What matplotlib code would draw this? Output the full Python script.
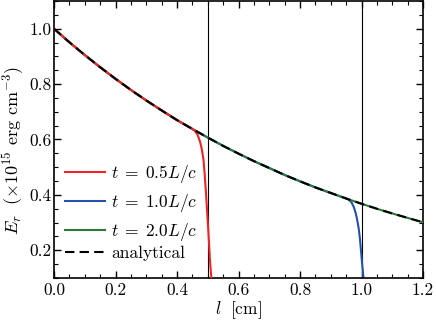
import matplotlib
matplotlib.use("Agg")
import matplotlib.pyplot as plt
from matplotlib.ticker import MultipleLocator, FormatStrFormatter

plt.rcParams['font.family'] = ['cmr10', 'DejaVu Serif']
plt.rcParams['mathtext.fontset'] = 'cm'
plt.rcParams['axes.formatter.use_mathtext'] = True

# analytical solution
l_ana = [0.00, 0.05, 0.10, 0.15, 0.20, 0.25, 0.30, 0.35, 0.40, 0.45, 0.50, 0.55,
         0.60, 0.65, 0.70, 0.75, 0.80, 0.85, 0.90, 0.95, 1.00, 1.05, 1.10, 1.15, 1.20]
E_ana = [1.000, 0.951, 0.905, 0.861, 0.819, 0.779, 0.741, 0.705, 0.670, 0.638, 0.607, 0.577,
         0.549, 0.522, 0.497, 0.472, 0.449, 0.427, 0.407, 0.387, 0.368, 0.350, 0.333, 0.317, 0.301]

# t = 0.5 L/c
l_t05 = [0.00, 0.05, 0.10, 0.15, 0.20, 0.25, 0.30, 0.35, 0.40, 0.45, 0.458, 0.467, 0.475,
         0.481, 0.486, 0.490, 0.494, 0.498, 0.501, 0.504, 0.507, 0.511, 0.515]
E_t05 = [1.000, 0.951, 0.905, 0.861, 0.819, 0.779, 0.741, 0.705, 0.670, 0.638, 0.631, 0.617, 0.592,
         0.563, 0.528, 0.475, 0.410, 0.340, 0.287, 0.228, 0.168, 0.110, 0.060]

# t = 1.0 L/c
l_t10 = [0.00, 0.05, 0.10, 0.15, 0.20, 0.25, 0.30, 0.35, 0.40, 0.45, 0.50, 0.55,
         0.60, 0.65, 0.70, 0.75, 0.80, 0.85, 0.90, 0.95, 0.960, 0.968, 0.975, 0.981,
         0.986, 0.991, 0.995, 0.999, 1.003, 1.008]
E_t10 = [1.000, 0.951, 0.905, 0.861, 0.819, 0.779, 0.741, 0.705, 0.670, 0.638, 0.607, 0.577,
         0.549, 0.522, 0.497, 0.472, 0.449, 0.427, 0.407, 0.387, 0.382, 0.372, 0.356, 0.335,
         0.310, 0.278, 0.240, 0.190, 0.140, 0.080]

# t = 2.0 L/c
l_t20 = l_ana
E_t20 = E_ana

# light-front positions
fronts = [0.5, 1.0]

fig = plt.figure(figsize=(4.36, 3.23), dpi=100)
ax = fig.add_axes([54/436, 1 - 278/323, (423-54)/436, (278-1)/323])

for xf in fronts:
    ax.axvline(xf, color='black', lw=0.8, zorder=1)

h10, = ax.plot(l_t10, E_t10, color='#2453a6', lw=1.5, zorder=2, label=r'$t\;=\;1.0L/c$')
h20, = ax.plot(l_t20, E_t20, color='#2b7a3b', lw=1.5, zorder=3, label=r'$t\;=\;2.0L/c$')
h05, = ax.plot(l_t05, E_t05, color='#ee2424', lw=1.5, zorder=4, label=r'$t\;=\;0.5L/c$')
ha, = ax.plot(l_ana, E_ana, color='black', lw=1.5, ls=(0, (4.5, 2.5)), zorder=5,
              label='analytical')

ax.set_xlim(0, 1.2)
ax.set_ylim(0.1, 1.1)
ax.xaxis.set_major_locator(MultipleLocator(0.2))
ax.xaxis.set_minor_locator(MultipleLocator(0.05))
ax.yaxis.set_major_locator(MultipleLocator(0.2))
ax.yaxis.set_minor_locator(MultipleLocator(0.05))
ax.xaxis.set_major_formatter(FormatStrFormatter('%.1f'))
ax.yaxis.set_major_formatter(FormatStrFormatter('%.1f'))
ax.tick_params(which='both', direction='in', top=True, right=True, labelsize=12.5)
ax.tick_params(which='major', length=5, width=1)
ax.tick_params(which='minor', length=3, width=0.8)
ax.tick_params(axis='y', which='major', pad=2)
for s in ax.spines.values():
    s.set_linewidth(1.2)

ax.set_xlabel(r'$l\;$ [cm]', fontsize=12.5, labelpad=1)
ax.set_ylabel(r'$E_r\;$ ($\times 10^{15}$ erg cm$^{-3}$)', fontsize=13)
ax.yaxis.set_label_coords(-0.076, 0.46)

leg_kw = dict(frameon=False, fontsize=12.5, handlelength=2.3, handletextpad=0.35,
              borderpad=0.0, borderaxespad=0.0, loc='center left')
leg1 = ax.legend(handles=[h05, h10, h20], labelspacing=0.42,
                 bbox_to_anchor=(0.0298, (278 - 203) / 277), **leg_kw)
ax.add_artist(leg1)
ax.legend(handles=[ha], bbox_to_anchor=(0.0298, (278 - 253) / 277), **leg_kw)

fig.savefig('out.png', dpi=100)
